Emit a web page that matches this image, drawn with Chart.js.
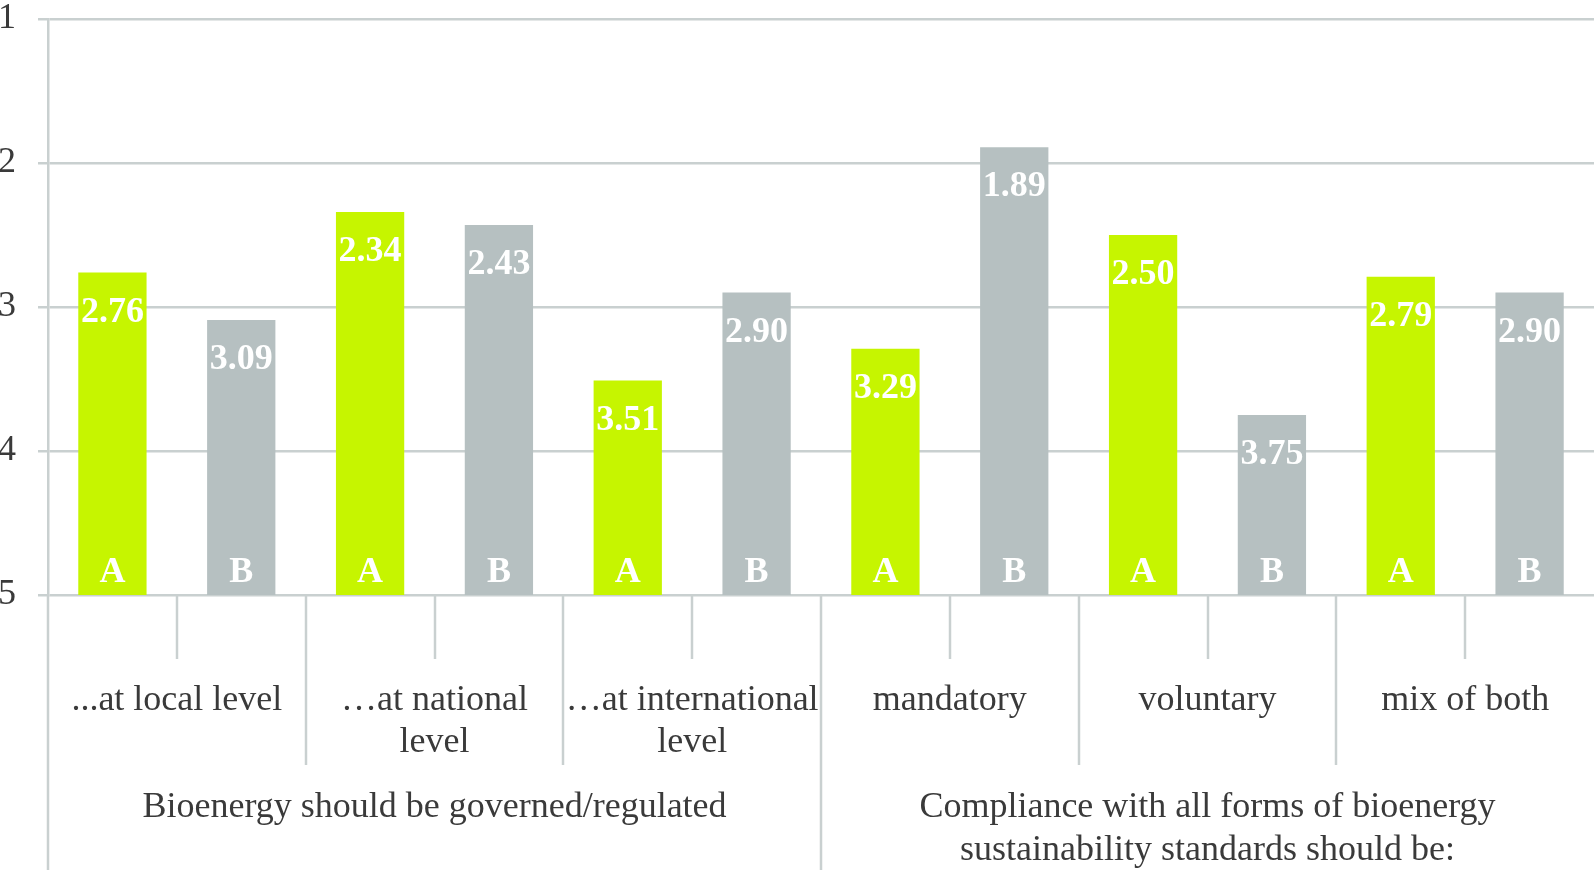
<!DOCTYPE html>
<html>
<head>
<meta charset="utf-8">
<script src="https://cdn.jsdelivr.net/npm/chart.js@4/dist/chart.umd.min.js"></script>
<style>
html, body { margin: 0; padding: 0; background: #fff; }
#wrap { width: 1594px; height: 870px; position: relative; }
</style>
</head>
<body>
<div id="wrap"><canvas id="chart"></canvas></div>
<script>
// Data
const categories = ['A', 'B', 'A', 'B', 'A', 'B', 'A', 'B', 'A', 'B', 'A', 'B'];
const seriesA = [2.76, 2.34, 3.51, 3.29, 2.50, 2.79];
const seriesB = [3.09, 2.43, 2.90, 1.89, 3.75, 2.90];
const subLabels = [
    ['...at local level'],
    ['\u2026at national', 'level'],
    ['\u2026at international', 'level'],
    ['mandatory'],
    ['voluntary'],
    ['mix of both']
];
const groupLabels = [
    ['Bioenergy should be governed/regulated'],
    ['Compliance with all forms of bioenergy', 'sustainability standards should be:']
];
const yTicks = [1, 2, 3, 4, 5];

const colorA = '#c6f500';
const colorB = '#b6c0c1';
const gridColor = '#c9d0d0';
const textColor = '#3a3a3a';
const serif = '"Liberation Serif", "Times New Roman", serif';

// interleave A/B values, bars grow from 5 up to the value
const values = [];
seriesA.forEach((a, i) => { values.push(a); values.push(seriesB[i]); });

// value labels, A/B labels, and the multi-level x axis
const overlay = {
    id: 'overlay',
    afterDatasetsDraw(chart) {
        const { ctx, scales: { x, y } } = chart;
        ctx.save();
        ctx.fillStyle = '#fff';
        ctx.font = 'bold 36px ' + serif;
        ctx.textAlign = 'center';
        ctx.textBaseline = 'middle';
        values.forEach((v, i) => {
            const px = x.getPixelForValue(i);
            ctx.fillText(v.toFixed(2), px, y.getPixelForValue(v) + 40);
            ctx.fillText(categories[i], px, y.getPixelForValue(5) - 22);
        });
        ctx.restore();
    },
    afterDraw(chart) {
        const { ctx, chartArea, scales: { x, y } } = chart;
        const base = y.getPixelForValue(5);
        const bottom = chart.height;
        ctx.save();
        ctx.strokeStyle = gridColor;
        ctx.lineWidth = 2.5;

        // left axis runs to the bottom of the figure
        ctx.beginPath();
        ctx.moveTo(chartArea.left, base);
        ctx.lineTo(chartArea.left, bottom);
        ctx.stroke();

        for (let k = 1; k < categories.length; k++) {
            const bx = Math.round((x.getPixelForValue(k - 1) + x.getPixelForValue(k)) / 2);
            let end = base + 64;
            if (k % 2 === 0) end = base + 170;
            if (k === 6) end = bottom;
            ctx.beginPath();
            ctx.moveTo(bx, base);
            ctx.lineTo(bx, end);
            ctx.stroke();
        }

        ctx.fillStyle = textColor;
        ctx.font = '36px ' + serif;
        ctx.textAlign = 'center';
        ctx.textBaseline = 'middle';
        subLabels.forEach((lines, i) => {
            const cx = (x.getPixelForValue(2 * i) + x.getPixelForValue(2 * i + 1)) / 2;
            lines.forEach((t, j) => ctx.fillText(t, cx, base + 106 + j * 42));
        });

        const mid = (x.getPixelForValue(5) + x.getPixelForValue(6)) / 2;
        const groupCenters = [(chartArea.left + mid) / 2, (mid + chartArea.right) / 2];
        groupLabels.forEach((lines, i) => {
            lines.forEach((t, j) => ctx.fillText(t, groupCenters[i], base + 213 + j * 43));
        });
        ctx.restore();
    }
};

new Chart(document.getElementById('chart'), {
    type: 'bar',
    data: {
        labels: categories,
        datasets: [{
            data: values.map(v => [5, v]),
            backgroundColor: categories.map(c => c === 'A' ? colorA : colorB),
            borderWidth: 0,
            barPercentage: 0.53,
            categoryPercentage: 1
        }]
    },
    options: {
        responsive: true,
        maintainAspectRatio: false,
        animation: false,
        layout: { padding: { top: 19, bottom: 275, right: 0, left: 0 } },
        plugins: { legend: { display: false }, tooltip: { enabled: false } },
        scales: {
            x: { display: false },
            y: {
                reverse: true,
                min: 1,
                max: 5,
                afterFit(scale) {
                    scale.width = 48;
                    scale.paddingTop = 0;
                    scale.paddingBottom = 0;
                },
                afterBuildTicks(scale) { scale.ticks = yTicks.map(v => ({ value: v })); },
                ticks: {
                    color: textColor,
                    font: { family: serif, size: 36 },
                    padding: 22
                },
                grid: { color: gridColor, lineWidth: 2.5, tickLength: 10 },
                border: { color: gridColor, width: 2.5 }
            }
        }
    },
    plugins: [overlay]
});
</script>
</body>
</html>
